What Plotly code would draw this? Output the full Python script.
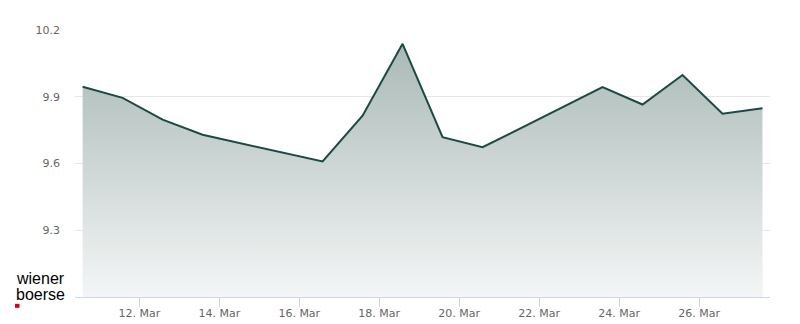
import plotly.graph_objects as go

dates = ["2026-03-10", "2026-03-11", "2026-03-12", "2026-03-13", "2026-03-16",
         "2026-03-17", "2026-03-18", "2026-03-19", "2026-03-20", "2026-03-23",
         "2026-03-24", "2026-03-25", "2026-03-26", "2026-03-27"]
prices = [9.945, 9.895, 9.797, 9.729, 9.609, 9.815, 10.138, 9.718, 9.673,
          9.943, 9.865, 9.998, 9.824, 9.848]
tick_dates = ["2026-03-12", "2026-03-14", "2026-03-16", "2026-03-18",
              "2026-03-20", "2026-03-22", "2026-03-24", "2026-03-26"]
tick_labels = ["12. Mar", "14. Mar", "16. Mar", "18. Mar",
               "20. Mar", "22. Mar", "24. Mar", "26. Mar"]
y_ticks = [9.0, 9.3, 9.6, 9.9, 10.2]
y_labels = ["", "9.3", "9.6", "9.9", "10.2"]

x_times = [d + " 14:00" for d in dates]

fig = go.Figure()
fig.add_trace(go.Scatter(
    x=x_times, y=prices, mode="lines",
    line=dict(color="#1a4a44", width=2),
    fill="tozeroy",
    fillgradient=dict(type="vertical",
                      colorscale=[[0, "rgba(245,247,247,1)"], [1, "rgba(166,182,179,1)"]],
                      start=9.0, stop=10.2),
    hoverinfo="skip",
))

L, R, T, B = 75, 30, 30, 30
W, H = 800, 332
pw, ph = W - L - R, H - T - B
S = H / 324.0

def px_x(x):
    return (x - L) / pw

def px_y(y):
    return (H - B - y * S) / ph

fig.update_layout(
    width=W, height=H,
    margin=dict(l=L, r=R, t=T, b=B),
    paper_bgcolor="white", plot_bgcolor="white",
    showlegend=False,
    font=dict(family="DejaVu Sans", size=11, color="#666666"),
    xaxis=dict(
        type="date",
        range=["2026-03-10 09:25", "2026-03-27 18:30"],
        tickvals=[d + " 00:00" for d in tick_dates], ticktext=tick_labels,
        showgrid=False, zeroline=False,
        showline=True, linecolor="#ccd6eb", linewidth=1,
        ticks="outside", ticklen=9, tickcolor="#ccd6eb", tickwidth=1,
        ticklabelstandoff=-3,
        tickfont=dict(family="DejaVu Sans", size=11, color="#666666"),
    ),
    yaxis=dict(
        range=[9.0, 10.2],
        tickvals=y_ticks, ticktext=y_labels,
        showgrid=True, gridcolor="#e6e6e6", gridwidth=1,
        zeroline=False, showline=False,
        ticklabelstandoff=14,
        tickfont=dict(family="DejaVu Sans", size=11, color="#666666"),
    ),
    annotations=[
        dict(text="wiener", xref="paper", yref="paper", x=px_x(14), y=px_y(276),
             xanchor="left", yanchor="middle", showarrow=False,
             font=dict(family="Liberation Sans", size=16, color="#000000")),
        dict(text="boerse", xref="paper", yref="paper", x=px_x(14), y=px_y(292),
             xanchor="left", yanchor="middle", showarrow=False,
             font=dict(family="Liberation Sans", size=16, color="#000000")),
    ],
    shapes=[
        dict(type="rect", xref="paper", yref="paper",
             x0=px_x(15), x1=px_x(19.5), y0=px_y(305.5), y1=px_y(301.5),
             fillcolor="#d0021b", line=dict(width=0)),
    ],
)

fig.write_html("out.html")
